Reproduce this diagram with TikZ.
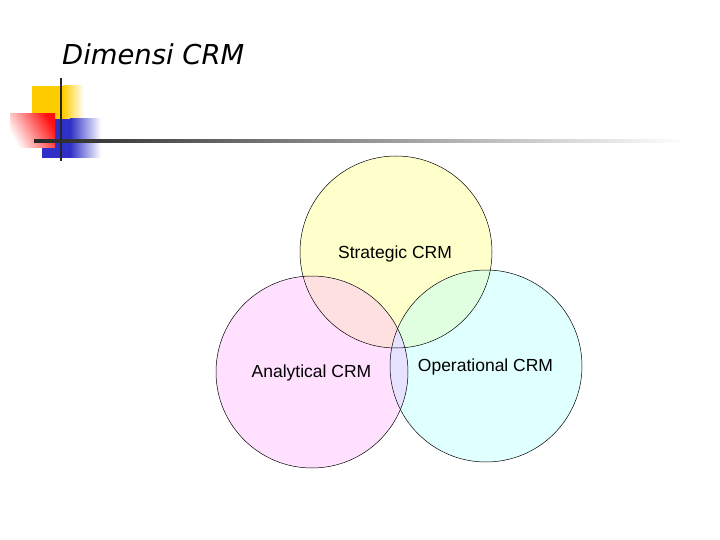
\documentclass[tikz,border=0pt]{standalone}
\usepackage{fontspec}
\setmainfont{Liberation Sans}
\newfontfamily\titlefont{DejaVu Sans}
\usetikzlibrary{positioning}

\definecolor{decoyellow}{HTML}{FFCC00}
\definecolor{decored}{HTML}{FF1010}
\definecolor{decoblue}{HTML}{3030C8}
\definecolor{vennyellow}{RGB}{255,255,204}
\definecolor{vennpink}{RGB}{255,224,255}
\definecolor{venncyan}{RGB}{224,255,255}
\definecolor{vennpeach}{RGB}{255,224,224}
\definecolor{venngreen}{RGB}{224,255,224}
\definecolor{vennlilac}{RGB}{230,226,255}

\begin{document}
\begin{tikzpicture}[x=1pt,y=-1pt,
    venn/.style={circle, minimum size=192pt, inner sep=0pt},
    vennlabel/.style={font=\fontsize{17.5}{20}\selectfont}]
            % Define dimensions
            \def\vennradius{96pt}
            % Page frame
            \fill[white] (0,0) rectangle (720,540);
            \useasboundingbox (0,0) rectangle (720,540);
            % Title
            \node[anchor=base west, inner sep=0pt, font=\titlefont\itshape\fontsize{27.4}{32}\selectfont]
                (title) at (62,65) {Dimensi CRM};
            % Corner decoration
            \begin{scope}
                \fill[decoyellow] (32,86) rectangle (63,120);
                \shade[left color=decoyellow, right color=white] (63,86) rectangle (84,120);
                \fill[decoblue] (42,119) rectangle (70,158);
                \shade[left color=decoblue, right color=white] (70,119) rectangle (101,158);
                \shade[top color=decored, bottom color=white, shading angle=-60] (10,114) rectangle (55,148);
                \draw[black!85, line width=2.5pt] (61,78) -- (61,161);
                \shade[left color=black!85, right color=white] (34,139.5) rectangle (685,142.5);
            \end{scope}
            % Venn circles
            \node[venn, fill=vennyellow] (strategic) at (396,252) {};
            \node[venn, fill=vennpink] (analytical) at (312,372) {};
            \node[venn, fill=venncyan] (operational) at (486,366) {};
            % Overlaps
            \begin{scope}
                \clip (strategic.center) circle[radius=\vennradius];
                \fill[vennpeach] (analytical.center) circle[radius=\vennradius];
                \fill[venngreen] (operational.center) circle[radius=\vennradius];
            \end{scope}
            \begin{scope}
                \clip (analytical.center) circle[radius=\vennradius];
                \fill[vennlilac] (operational.center) circle[radius=\vennradius];
            \end{scope}
            % Outlines
            \foreach \c in {strategic, analytical, operational}
                \draw[black, line width=0.5pt] (\c.center) circle[radius=\vennradius];
            % Labels
            \node[vennlabel] (strategiclabel) at (395,254) {Strategic CRM};
            \node[vennlabel] (analyticallabel) at (311.5,373) {Analytical CRM};
            \node[vennlabel] (operationallabel) at (485.5,367) {Operational CRM};
        \end{tikzpicture}
\end{document}
